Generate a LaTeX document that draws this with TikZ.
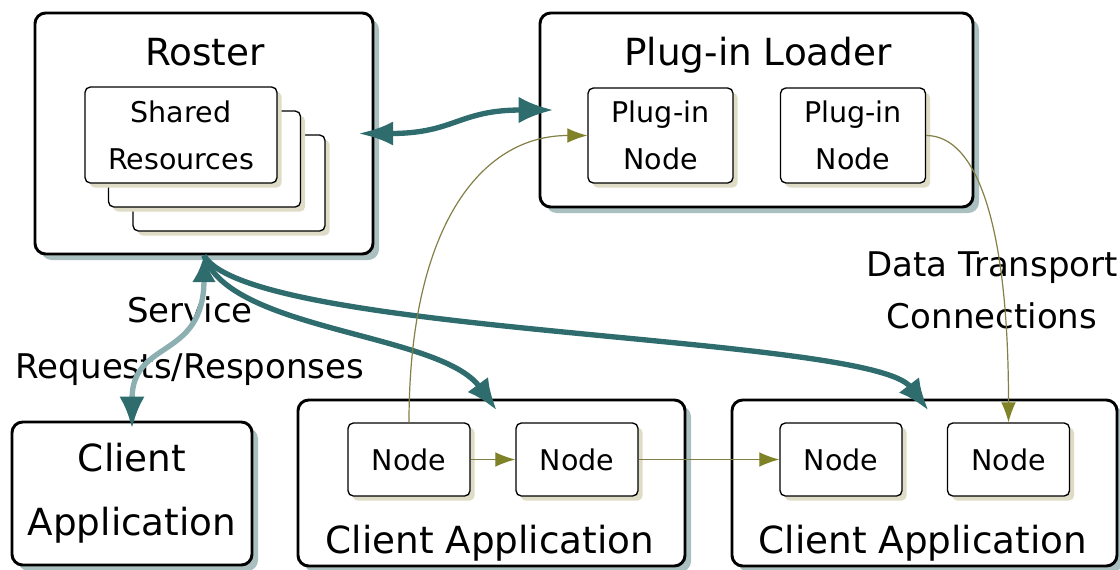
\documentclass[tikz,border=0pt]{standalone}
\usepackage{fontspec}
\setmainfont{DejaVu Sans}
\usetikzlibrary{arrows.meta,shadows}

\definecolor{tealdark}{RGB}{46,108,110}
\definecolor{teallight}{RGB}{140,176,178}
\definecolor{shadeteal}{RGB}{170,192,192}
\definecolor{shadebeige}{RGB}{222,220,198}
\definecolor{dataline}{RGB}{130,128,70}
\definecolor{datahead}{RGB}{128,130,40}

\begin{document}
\begin{tikzpicture}[x=0.75pt,y=-0.75pt,
        bigbox/.style = {draw,line width=2.2pt,rounded corners=8pt,fill=white,
            drop shadow={shadow xshift=4.5pt,shadow yshift=-4.5pt,fill=shadeteal,opacity=1}},
        smallbox/.style = {draw,line width=1pt,rounded corners=4pt,fill=white,align=center,
            font=\fontsize{21.4}{35.25}\selectfont,
            drop shadow={shadow xshift=3.5pt,shadow yshift=-3.5pt,fill=shadebeige,opacity=1}},
        bigtext/.style = {anchor=base,font=\fontsize{28}{48}\selectfont},
        midtext/.style = {align=center,font=\fontsize{25.5}{#1}\selectfont},
        service/.style = {line width=4pt,-{Latex[length=24pt,width=19pt,color=tealdark]}},
        datalink/.style = {dataline,line width=0.9pt,-{Latex[length=15pt,width=11pt,color=datahead]}}]
    \useasboundingbox (0,0) rectangle (1120,569);

    % roster with its shared resources
    \node[bigbox,minimum width=253.5pt,minimum height=180.75pt] (roster) at (204,133.5) {};
    \node[bigtext] (rostertitle) at (205,65) {Roster};
    \node[smallbox,minimum width=144pt,minimum height=72pt] (res3) at (229,183) {};
    \node[smallbox,minimum width=144pt,minimum height=72pt] (res2) at (204.5,159) {};
    \node[smallbox,minimum width=144pt,minimum height=72pt] (res1) at (181,135) {Shared\\Resources};

    % plug-in loader
    \node[bigbox,minimum width=324.75pt,minimum height=145.5pt] (loader) at (756.5,110) {};
    \node[bigtext] (loadertitle) at (758,65) {Plug-in Loader};
    \node[smallbox,minimum width=108.75pt,minimum height=71.25pt] (pn1) at (660.5,135.5) {Plug-in\\Node};
    \node[smallbox,minimum width=108.75pt,minimum height=71.25pt] (pn2) at (853,135.5) {Plug-in\\Node};

    % client applications
    \node[bigbox,align=center,font=\fontsize{28}{48}\selectfont,
          minimum width=180pt,minimum height=107.25pt] (leftapp) at (132,493.5) {Client\\Application};

    \node[bigbox,minimum width=290.25pt,minimum height=124.5pt] (midapp) at (491.5,483) {};
    \node[bigtext] (midtitle) at (490,553) {Client Application};
    \node[smallbox,minimum width=91.5pt,minimum height=54.75pt] (mn1) at (409,459.5) {Node};
    \node[smallbox,minimum width=91.5pt,minimum height=54.75pt] (mn2) at (577,459.5) {Node};

    \node[bigbox,minimum width=288.75pt,minimum height=124.5pt] (rightapp) at (924.5,483) {};
    \node[bigtext] (righttitle) at (923,553) {Client Application};
    \node[smallbox,minimum width=91.5pt,minimum height=54.75pt] (rn1) at (841,459.5) {Node};
    \node[smallbox,minimum width=91.5pt,minimum height=54.75pt] (rn2) at (1008.5,459.5) {Node};

    % labels
    \node[midtext=42pt] (srvlabel) at (190,341) {Service\\Requests/Responses};
    \node[midtext=39pt] (dtlabel) at (992,290.5) {Data Transport\\Connections};

    % service requests
    \draw[service,teallight,{Latex[length=20pt,width=18pt,color=tealdark]}-{Latex[length=24pt,width=19pt,color=tealdark]}]
        (roster.south) .. controls +(0,105) and +(0,-90) .. ([yshift=-6pt]leftapp.north);
    \draw[service,tealdark] (roster.south) .. controls +(26,76) and +(-57,-78) .. ([xshift=4pt,yshift=-9pt]midapp.north);
    \draw[service,tealdark] (roster.south) .. controls +(46,80) and +(-58,-76) .. ([xshift=3pt,yshift=-9pt]rightapp.north);
    \draw[service,tealdark,{Latex[length=26pt,width=18pt]}-{Latex[length=26pt,width=20pt]},
          shorten <=-12pt,shorten >=-11pt]
        (roster.east) .. controls +(80,0) and +(-80,0) .. (loader.west);

    % data transport
    \draw[datalink] (mn1.north) .. controls +(0,-193) and +(-108,0) .. (pn1.west);
    \draw[datalink] (pn2.east) .. controls +(50,0) and +(0,-200) .. (rn2.north);
    \draw[datalink] (mn1.east) -- (mn2.west);
    \draw[datalink] (mn2.east) -- (rn1.west);
\end{tikzpicture}
\end{document}
